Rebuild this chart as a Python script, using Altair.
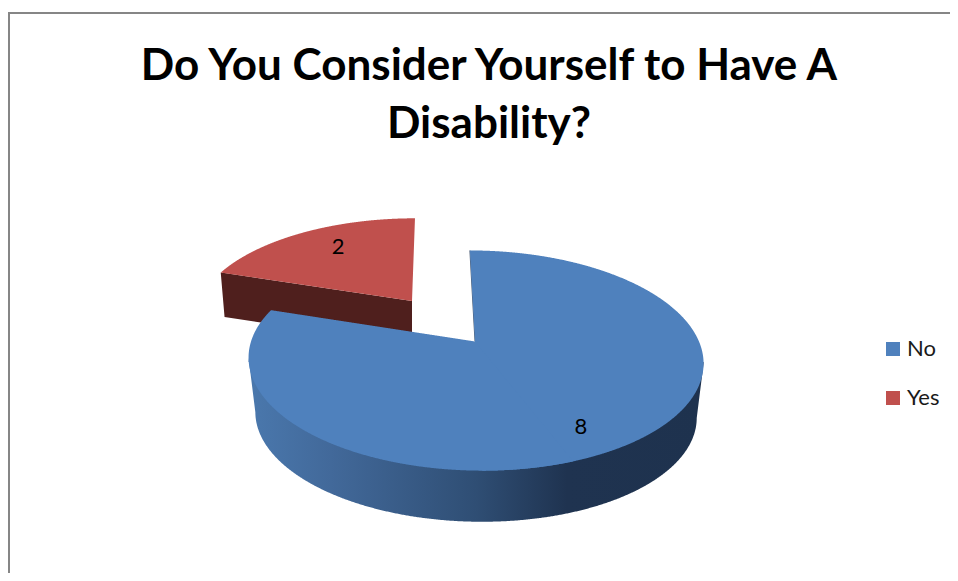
import numpy as np
import pandas as pd
import altair as alt

categories = ["No", "Yes"]
values = [8, 2]
title_lines = ["Do You Consider Yourself to Have A", "Disability?"]
slice_colors = ["#4f81bd", "#c0504d"]

W, H = 942, 565
K = 0.173  # perspective of the tilted disc


def disc(theta_deg, c, f=1.0, dy=0.0, r=1.0):
    t = np.radians(theta_deg)
    u, v = r * np.sin(t), r * np.cos(t)
    w = 1 + K * v
    x = c["ax"] + f * (c["A"] * u + c["S"] * v) / w
    y = c["ay"] + dy - f * c["B"] * v / w
    return x, y


BLUE = dict(ax=475, ay=341.5, A=224, B=106.8, S=-6)
RED = dict(ax=412, ay=301, A=213, B=97, S=3.5)

total = sum(values)
sweep_no = 360 * values[0] / total


def area_rows(xs, ys, cat, piece):
    xs, ys = np.asarray(xs), np.asarray(ys)
    n = len(xs)
    i0, i1 = int(np.argmin(xs)), int(np.argmax(xs))
    idx_a = [(i0 + j) % n for j in range(((i1 - i0) % n) + 1)]
    idx_b = [(i0 - j) % n for j in range(((i0 - i1) % n) + 1)]
    grid = np.unique(np.concatenate([xs, np.linspace(xs.min(), xs.max(), 400)]))
    ya = np.interp(grid, xs[idx_a], ys[idx_a])
    yb = np.interp(grid, xs[idx_b], ys[idx_b])
    return pd.DataFrame({"x": grid, "y": np.minimum(ya, yb), "y2": np.maximum(ya, yb),
                         "category": cat, "piece": piece})


def wedge(c, a0, a1, cat, piece):
    th = np.linspace(a0, a1, 240)
    x, y = disc(th, c)
    return area_rows(np.r_[c["ax"], x], np.r_[c["ay"], y], cat, piece)


blue_top = pd.concat([
    wedge(BLUE, 0, 180, categories[0], "no-right"),
    wedge(BLUE, 160, sweep_no, categories[0], "no-left"),
])
red_top = wedge(RED, sweep_no, 360, categories[1], "yes")

# blue outer wall: silhouette of the lower disc joined to the upper disc's extremes
full = np.linspace(0, 360, 1441)
tx, ty = disc(full, BLUE)
bx, by = disc(full, BLUE, f=0.97, dy=55)
il, ir = int(np.argmin(bx)), int(np.argmax(bx))
low = (full >= full[ir]) & (full <= full[il])
sx = np.r_[tx.min(), bx[low][::-1], tx.max()]
sy = np.r_[ty[np.argmin(tx)], by[low][::-1], ty[np.argmax(tx)]]
order = np.argsort(sx)
blue_wall = pd.DataFrame({"x": sx[order], "y": np.full(len(sx), 362.0), "y2": sy[order]})

# red cut wall, under the edge from the rim corner to the apex
cx, cy = disc(sweep_no, RED)
bcx, bcy = disc(sweep_no, RED, f=0.98, dy=44)
red_wall = pd.DataFrame({
    "x": [cx, bcx, RED["ax"]],
    "y": [cy, cy + (bcx - cx) * (RED["ay"] - cy) / (RED["ax"] - cx), RED["ay"]],
    "y2": [cy, bcy, RED["ay"] + 44],
})

sx0, sy0 = disc(0, BLUE)
edge = pd.DataFrame({"x": [sx0, BLUE["ax"]], "y": [sy0, BLUE["ay"]]})

lx0, ly0 = disc(sweep_no / 2, BLUE, r=0.70)
lx1, ly1 = disc(sweep_no + (360 - sweep_no) / 2, RED, r=0.66)
labels = pd.DataFrame({"x": [lx0, lx1], "y": [ly0 + 18, ly1 - 7], "label": [str(v) for v in values]})

X = alt.X("x:Q", scale=alt.Scale(domain=[8, 8 + W], range=[0, W]), axis=None)
Y = alt.Y("y:Q", scale=alt.Scale(domain=[8, 8 + H], range=[0, H]), axis=None, stack=None)
Y2 = alt.Y2("y2:Q")

color = alt.Color(
    "category:N",
    scale=alt.Scale(domain=categories, range=slice_colors),
    legend=alt.Legend(
        title=None, orient="none", legendX=874, legendY=330, padding=0,
        symbolType="square", symbolSize=196, symbolStrokeWidth=0, symbolOpacity=1,
        labelFont="Lato", labelFontSize=22, labelColor="#1a1a1a", labelOffset=3,
        rowPadding=27, labelLimit=80,
    ),
)

wall_gradient = alt.Gradient(
    gradient="linear", x1=0, x2=1, y1=0, y2=0,
    stops=[
        alt.GradientStop(offset=0.0, color="#4a78ad"),
        alt.GradientStop(offset=0.18, color="#42699a"),
        alt.GradientStop(offset=0.5, color="#2f4e74"),
        alt.GradientStop(offset=0.7, color="#1f3350"),
        alt.GradientStop(offset=1.0, color="#1e324e"),
    ],
)

frame_left = alt.Chart(pd.DataFrame({"a": [0]})).mark_rule(color="#868686", strokeWidth=2).encode(
    x=alt.value(1), y=alt.value(4), y2=alt.value(H))
frame_top = alt.Chart(pd.DataFrame({"a": [0]})).mark_rule(color="#868686", strokeWidth=2).encode(
    y=alt.value(5), x=alt.value(0), x2=alt.value(W))

red_wall_layer = alt.Chart(red_wall).mark_area(color="#4f1f1d").encode(x=X, y=Y, y2=Y2)
red_top_layer = alt.Chart(red_top).mark_area().encode(x=X, y=Y, y2=Y2, color=color, detail="piece:N")
blue_wall_layer = alt.Chart(blue_wall).mark_area(fill=wall_gradient).encode(x=X, y=Y, y2=Y2)
blue_top_layer = alt.Chart(blue_top).mark_area().encode(x=X, y=Y, y2=Y2, color=color, detail="piece:N")
edge_layer = alt.Chart(edge).mark_line(color="#1f3350", strokeWidth=0.8).encode(x=X, y=Y)
label_layer = alt.Chart(labels).mark_text(font="Lato", fontSize=22, color="#000000").encode(
    x=X, y=Y, text="label:N")

chart = alt.layer(
    frame_left, frame_top, red_wall_layer, red_top_layer, blue_wall_layer,
    edge_layer, blue_top_layer, label_layer,
).properties(
    width=W, height=H, padding=0, autosize=alt.AutoSizeParams(type="none"),
    background="white",
    title=alt.TitleParams(
        text=title_lines, font="Lato", fontSize=44, fontWeight="bold", color="#000000",
        anchor="middle", dx=10, dy=143, lineHeight=58,
    ),
).configure_view(stroke=None)

chart.save("out.html", embed_options={"renderer": "svg", "actions": False})
